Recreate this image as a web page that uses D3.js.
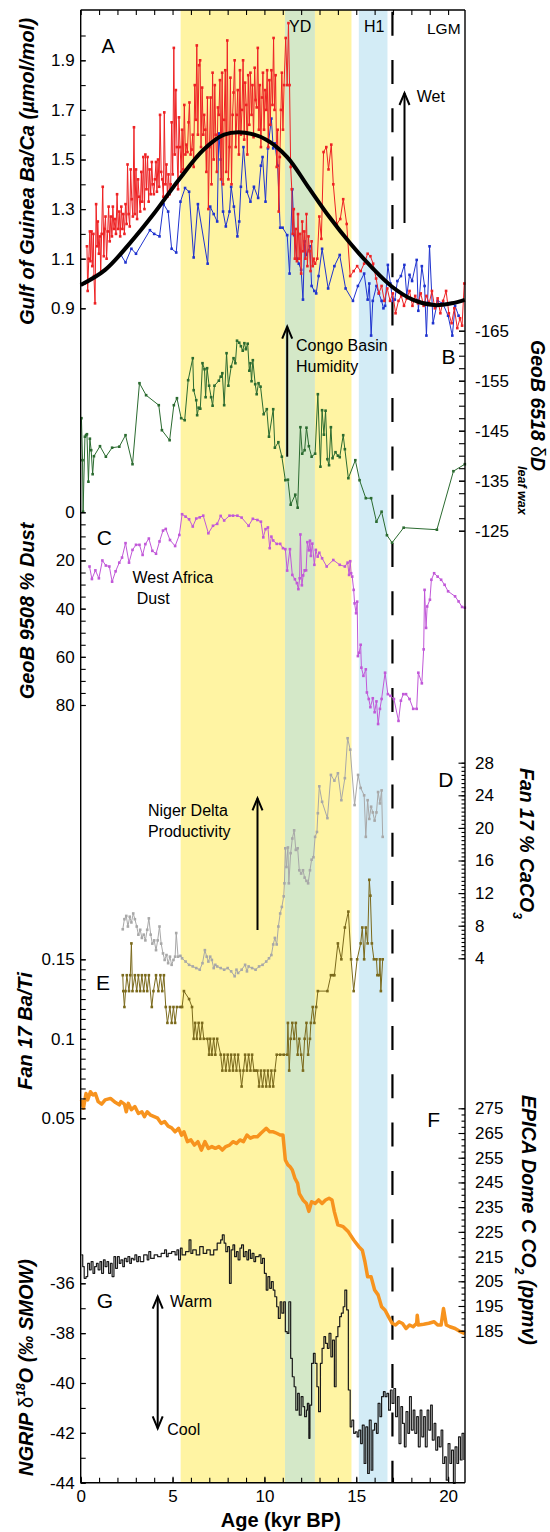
<!DOCTYPE html>
<html>
<head>
<meta charset="utf-8">
<script src="https://cdn.jsdelivr.net/npm/d3@7"></script>
<style>
  body { margin: 0; background: #fff; }
  svg { display: block; font-family: Arial, "Liberation Sans", sans-serif; }
</style>
</head>
<body>
<div id="root"></div>
<script>
// ---------- data (age kyr BP, value) ----------
const redBaCa = [[0.34,1.15],[0.38,0.97],[0.44,1.10],[0.50,1.21],[0.53,1.09],[0.59,1.21],[0.63,1.07],[0.69,1.20],[0.72,1.03],[0.78,0.92],[0.84,1.32],[0.90,1.15],[0.93,1.25],[0.99,1.12],[1.05,1.19],[1.09,1.04],[1.14,1.20],[1.20,1.39],[1.26,1.11],[1.30,1.22],
  [1.35,1.27],[1.41,1.10],[1.47,1.21],[1.52,1.31],[1.58,1.17],[1.64,1.27],[1.70,1.19],[1.75,1.31],[1.81,1.22],[1.87,1.26],[1.92,1.20],[1.98,1.36],[2.04,1.22],[2.10,1.29],[2.15,1.19],[2.21,1.31],[2.27,1.22],[2.32,1.28],[2.38,1.20],[2.44,1.32],[2.50,1.24],[2.55,1.48],[2.61,1.28],[2.67,1.23],[2.72,1.46],[2.78,1.34],[2.84,1.27],[2.90,1.63],[2.95,1.28],[3.01,1.46],[3.07,1.26],[3.12,1.42],[3.18,1.35],[3.24,1.29],
  [3.30,1.45],[3.35,1.33],[3.41,1.51],[3.47,1.30],[3.52,1.52],[3.58,1.38],[3.64,1.51],[3.70,1.33],[3.75,1.46],[3.81,1.36],[3.87,1.49],[3.92,1.40],[3.98,1.36],[4.04,1.42],[4.10,1.49],[4.15,1.37],[4.21,1.50],[4.27,1.39],[4.32,1.68],[4.38,1.45],[4.44,1.42],[4.50,1.35],[4.55,1.69],[4.61,1.40],[4.67,1.48],[4.72,1.35],[4.78,1.44],[4.84,1.36],[4.90,1.40],[4.95,1.65],[5.01,1.44],[5.07,1.95],[5.12,1.52],[5.18,1.78],[5.24,1.55],[5.30,1.38],[5.35,1.67],[5.41,1.55],
  [5.47,1.45],[5.52,1.62],[5.58,1.46],[5.64,1.72],[5.70,1.52],[5.75,1.56],[5.81,1.53],[5.87,1.65],[5.92,1.73],[5.98,1.52],[6.04,1.54],[6.10,1.60],[6.15,1.47],[6.21,1.80],[6.27,1.66],[6.32,1.96],[6.38,1.60],[6.44,1.88],[6.50,1.90],[6.55,1.55],[6.61,1.79],[6.67,1.60],[6.72,1.68],[6.78,1.62],[6.84,1.45],[6.90,1.75],[6.95,1.30],[7.01,1.55],[7.07,1.75],[7.12,1.40],[7.18,1.85],[7.24,1.50],[7.30,1.80],[7.35,1.60],[7.41,1.45],
  [7.47,1.71],[7.52,1.68],[7.58,1.82],[7.64,1.42],[7.70,1.85],[7.75,1.40],[7.81,1.66],[7.87,1.86],[7.92,1.45],[7.98,1.98],[8.04,1.42],[8.10,1.55],[8.15,1.83],[8.21,1.40],[8.27,1.68],[8.32,1.77],[8.38,1.90],[8.44,1.55],[8.50,1.68],[8.55,1.78],[8.61,1.52],[8.67,1.86],[8.72,1.60],[8.78,1.70],[8.84,1.90],[8.90,1.58],[8.95,1.81],
  [9.01,1.72],[9.07,1.52],[9.12,1.84],[9.18,1.64],[9.24,1.85],[9.30,1.68],[9.35,1.80],[9.41,1.59],[9.47,1.87],[9.52,1.74],[9.58,1.71],[9.64,1.95],[9.70,1.62],[9.75,1.80],[9.81,1.55],[9.87,1.75],[9.92,1.85],[9.98,1.62],[10.04,1.78],[10.10,1.70],[10.15,1.86],[10.21,1.55],[10.27,1.82],[10.32,1.64],[10.38,1.86],[10.44,1.72],[10.50,1.99],[10.55,1.70],[10.61,1.84],[10.67,1.47],[10.72,1.62],[10.78,1.29],[10.84,1.51],[10.90,1.70],[10.95,1.85],[11.01,1.62],[11.07,1.80],
  [11.16,1.99],[11.24,1.80],[11.31,2.05],[11.37,1.80],[11.43,1.47],[11.49,1.38],[11.54,1.20],[11.60,1.30],[11.66,1.10],[11.71,1.22],[11.77,1.09],[11.83,1.28],[11.89,1.10],[11.94,1.20],[12.00,1.04],[12.06,1.25],[12.11,1.13],[12.17,1.21],[12.23,1.10],[12.29,1.28],[12.34,1.07],[12.40,1.19],[12.46,1.13],[12.51,1.05],[12.57,1.17],[12.63,1.07],[12.69,1.10],[12.76,1.08],[12.88,1.10],[12.99,1.27],[13.10,1.18],[13.22,1.53],[13.37,1.55],[13.49,1.46],[13.64,1.56],[13.75,1.40],[13.94,1.24],[14.13,1.26],[14.29,1.34],[14.48,1.24],[14.67,1.03],[14.86,1.05],[15.05,1.07],[15.24,1.05],[15.43,1.08],[15.62,1.12],[15.77,1.11],[15.92,1.08],[16.08,1.02],[16.23,0.96],[16.38,0.99],[16.53,0.93],[16.69,0.98],[16.84,0.93],[16.99,0.96],[17.14,0.88],[17.30,0.93],[17.45,0.95],[17.60,0.91],[17.75,0.94],[17.90,0.97],[18.06,0.91],[18.21,0.95],[18.36,0.92],[18.51,0.96],[18.67,0.91],[18.82,0.95],[18.97,0.92],[19.12,0.97],[19.28,0.90],[19.43,0.94],[19.58,0.88],[19.73,0.93],[19.89,0.97],[20.04,0.88],[20.19,0.84],[20.34,0.90],[20.50,0.82],[20.65,0.86],[20.76,0.83],[20.88,1.00]];

const blueBaCa = [[2.19,1.115],[2.44,1.085],[2.76,1.14],[3.01,1.12],[3.77,1.215],[4.00,1.20],[4.29,1.19],[4.51,1.32],[4.76,1.29],[4.95,1.14],[5.20,1.125],[5.43,1.33],[5.68,1.385],[5.90,1.37],[6.15,1.105],[6.38,1.32],[6.91,1.08],[7.05,1.31],[7.24,1.28],[7.43,1.25],[7.52,1.605],[7.62,1.50],[7.75,1.29],[7.90,1.23],[8.10,1.29],[8.19,1.39],[8.34,1.31],[8.53,1.19],[8.63,1.25],[8.72,1.39],[8.86,1.55],[9.05,1.37],[9.24,1.33],[9.43,1.39],[9.66,1.345],[9.81,1.475],[9.90,1.51],[10.06,1.33],[10.19,1.545],[10.38,1.665],[10.48,1.545],[10.57,1.565],[10.72,1.475],[10.86,1.225],[10.99,1.225],[11.24,1.195],[11.37,1.04],[11.52,1.38],[11.62,1.195],[11.77,1.10],[11.87,1.08],[12.00,1.055],[12.10,0.935],[12.19,1.17],[12.29,1.115],[12.48,1.15],[12.57,0.99],[12.72,0.97],[12.82,0.96],[12.95,1.03],[13.14,1.14],[13.47,0.98],[13.81,1.07],[14.10,1.115],[14.42,0.98],[14.82,0.93],[15.09,0.99],[15.43,1.04],[15.62,0.935],[15.71,1.00],[15.81,0.79],[15.90,0.93],[16.10,0.99],[16.23,0.96],[16.38,0.93],[16.48,0.90],[16.57,0.91],[16.72,1.075],[16.86,1.00],[16.99,0.93],[17.10,0.935],[17.24,1.01],[17.43,1.03],[17.62,1.075],[17.75,0.95],[17.90,1.035],[18.04,1.01],[18.29,1.095],[18.38,0.89],[18.57,1.07],[18.72,0.99],[18.82,0.79],[18.99,1.15],[19.18,0.84],[19.43,0.93],[19.71,0.92],[20.00,0.87],[20.23,0.79],[20.38,0.91],[20.57,0.87]];

const fitBaCa = [[0,0.994],[1.33,1.055],[2.67,1.162],[4.0,1.283],[5.33,1.417],[6.67,1.538],[7.81,1.60],[8.95,1.608],[10.10,1.58],[11.24,1.51],[12.38,1.39],[13.52,1.27],[14.67,1.162],[15.81,1.068],[16.95,0.987],[18.1,0.934],[19.24,0.913],[20.19,0.92],[20.91,0.934]];

const dDwax = [[0.04,-147.5],[0.10,-139.1],[0.13,-128.8],[0.23,-143.8],[0.29,-144.1],[0.34,-144.3],[0.42,-134.8],[0.50,-143.4],[0.57,-141.1],[0.65,-136.3],[0.72,-139.9],[1.05,-141.9],[1.37,-139.8],[1.71,-141.6],[2.10,-141.8],[2.44,-144.1],[2.82,-138.3],[3.20,-154.5],[3.56,-152.1],[4.25,-150.1],[4.42,-145.1],[4.84,-143.1],[5.07,-150.1],[5.24,-151.5],[5.47,-147.5],[5.66,-147.1],[5.85,-155.1],[6.10,-159.5],[6.15,-153.1],[6.29,-151.1],[6.34,-148.1],[6.42,-149.6],[6.51,-149.4],[6.63,-158.5],[6.74,-157.3],[6.80,-151.7],[6.88,-157.5],[6.99,-154.0],[7.10,-151.7],[7.18,-150.0],[7.28,-154.0],[7.52,-155.0],[7.62,-155.8],[7.71,-156.5],[7.81,-150.1],[7.94,-160.5],[8.04,-154.0],[8.19,-157.8],[8.32,-159.5],[8.42,-158.5],[8.51,-163.0],[8.63,-162.6],[8.72,-161.9],[8.82,-161.0],[8.91,-162.5],[8.99,-161.3],[9.09,-162.4],[9.18,-157.0],[9.24,-158.5],[9.30,-154.9],[9.37,-159.1],[9.50,-154.3],[9.58,-152.3],[9.68,-154.5],[9.79,-153.8],[9.96,-148.3],[10.13,-149.3],[10.25,-143.8],[10.48,-149.3],[10.57,-141.6],[10.76,-142.7],[10.95,-139.8],[11.14,-135.1],[11.28,-135.2],[11.43,-130.2],[11.68,-132.2],[11.81,-129.6],[11.96,-145.7],[12.06,-140.4],[12.19,-141.1],[12.29,-145.6],[12.42,-141.9],[12.57,-139.8],[12.76,-140.4],[12.91,-152.3],[13.05,-137.8],[13.14,-149.1],[13.24,-144.2],[13.33,-149.0],[13.43,-139.3],[13.52,-138.1],[13.62,-145.7],[13.71,-139.5],[13.87,-140.7],[14.00,-140.0],[14.10,-139.7],[14.29,-144.1],[14.38,-141.3],[14.57,-135.5],[14.95,-139.1],[15.18,-135.1],[15.52,-131.5],[15.81,-131.5],[16.10,-126.8],[16.38,-128.8],[16.67,-124.1],[16.95,-122.6],[17.58,-125.6],[19.39,-125.2],[20.29,-136.9],[20.91,-138.3]];

const dust = [[0.48,22.5],[0.61,27.7],[0.80,24.1],[0.99,27.4],[1.18,20.0],[1.37,22.1],[1.56,22.5],[1.71,28.8],[1.90,24.5],[2.10,20.9],[2.25,18.8],[2.44,12.8],[2.63,20.9],[2.82,15.6],[3.01,13.5],[3.20,13.5],[3.37,17.7],[3.52,13.2],[3.71,10.9],[3.90,16.0],[4.10,17.2],[4.29,12.1],[4.48,7.6],[4.63,6.9],[4.86,11.5],[5.14,14.0],[5.37,9.4],[5.52,0.8],[5.71,1.8],[5.90,2.9],[6.10,5.9],[6.29,2.6],[6.48,2.1],[6.67,1.4],[6.95,8.7],[7.20,5.6],[7.43,4.8],[7.62,1.5],[7.81,3.4],[8.10,1.4],[8.29,1.4],[8.53,1.4],[8.76,2.2],[9.14,5.6],[9.37,2.7],[9.62,3.2],[9.81,3.9],[9.94,10.4],[10.06,7.0],[10.19,6.3],[10.29,14.9],[10.38,10.1],[10.48,11.7],[10.67,13.1],[10.86,13.1],[11.01,14.9],[11.14,15.3],[11.24,24.2],[11.39,15.3],[11.52,26.0],[11.66,27.8],[11.77,29.4],[11.85,31.9],[11.92,27.4],[11.96,9.2],[12.04,30.3],[12.11,26.2],[12.19,24.1],[12.27,24.1],[12.34,12.4],[12.42,15.8],[12.48,11.8],[12.53,18.1],[12.61,13.0],[12.72,21.8],[12.80,15.6],[12.90,18.4],[12.99,16.8],[13.14,19.1],[13.39,22.5],[13.75,19.8],[14.10,21.8],[14.38,22.5],[14.53,20.9],[14.61,26.0],[14.67,20.3],[14.72,25.3],[14.78,26.7],[14.86,32.2],[14.91,37.8],[14.99,41.9],[15.05,37.1],[15.09,59.7],[15.16,58.3],[15.24,55.0],[15.28,64.5],[15.39,67.9],[15.52,65.2],[15.58,74.8],[15.68,77.5],[15.77,80.9],[15.90,77.2],[16.00,83.0],[16.10,78.5],[16.19,87.9],[16.29,81.6],[16.38,77.5],[16.57,66.6],[16.72,75.5],[16.86,76.2],[17.05,77.5],[17.30,86.6],[17.43,78.2],[17.56,75.5],[17.71,75.5],[17.90,77.5],[18.10,81.6],[18.29,81.6],[18.38,66.6],[18.57,71.0],[18.67,56.9],[18.72,32.2],[18.80,48.0],[18.86,39.1],[19.01,36.3],[19.09,28.0],[19.24,25.3],[19.43,26.7],[19.62,28.0],[19.81,30.1],[20.00,32.8],[20.38,34.9],[20.57,37.0],[20.76,39.3],[20.91,39.6]];

const caco3 = [[2.29,7.56],[2.38,8.8],[2.48,9.2],[2.57,7.9],[2.67,9.1],[2.76,8.4],[2.86,9.5],[2.95,8.8],[3.05,7.9],[3.14,6.9],[3.24,7.5],[3.33,6.5],[3.43,6.9],[3.52,6.2],[3.62,7.5],[3.71,8.9],[3.81,6.9],[3.90,5.8],[4.00,6.2],[4.10,5.0],[4.19,6.2],[4.29,7.9],[4.38,5.8],[4.48,4.6],[4.57,3.8],[4.67,4.4],[4.76,3.4],[4.86,4.2],[4.95,3.2],[5.05,3.8],[5.14,4.2],[5.20,7.1],[5.30,4.2],[5.43,4.3],[5.52,4.0],[5.71,3.6],[5.90,3.2],[6.10,3.0],[6.29,2.8],[6.48,2.6],[6.63,3.4],[6.76,5.0],[6.86,4.2],[6.95,3.6],[7.05,4.2],[7.14,3.8],[7.24,2.8],[7.33,3.2],[7.43,3.0],[7.62,2.8],[7.81,2.6],[8.00,2.8],[8.19,2.4],[8.38,1.8],[8.48,2.6],[8.57,2.2],[8.76,2.6],[8.95,3.2],[9.05,2.4],[9.14,3.0],[9.33,2.8],[9.52,2.6],[9.71,3.0],[9.90,3.2],[10.10,3.6],[10.25,4.0],[10.38,4.4],[10.48,5.7],[10.57,6.5],[10.67,5.7],[10.76,7.9],[10.86,9.5],[10.95,10.3],[11.05,11.6],[11.09,13.2],[11.14,17.5],[11.20,15.2],[11.28,17.6],[11.33,13.2],[11.43,16.9],[11.52,18.7],[11.62,19.7],[11.71,17.3],[11.81,17.5],[11.90,14.8],[12.00,14.4],[12.10,14.8],[12.19,13.9],[12.29,13.5],[12.38,13.2],[12.48,14.8],[12.57,16.1],[12.67,16.4],[12.76,18.9],[12.86,19.5],[12.91,21.8],[12.99,25.1],[13.14,23.2],[13.43,21.2],[13.62,26.5],[13.81,25.8],[14.00,26.7],[14.19,23.4],[14.38,26.1],[14.53,31.0],[14.67,29.6],[14.91,22.8],[15.10,26.5],[15.24,24.9],[15.43,24.0],[15.52,18.9],[15.62,23.4],[15.71,21.1],[15.81,22.6],[15.90,21.9],[16.00,20.9],[16.10,21.9],[16.19,24.4],[16.29,23.0],[16.38,24.6],[16.44,18.9]];

const baTi = [[2.29,0.14],[2.32,0.13],[2.38,0.12],[2.44,0.13],[2.51,0.14],[2.63,0.13],[2.70,0.14],[2.76,0.16],[2.82,0.13],[2.95,0.14],[3.05,0.13],[3.14,0.14],[3.24,0.13],[3.33,0.14],[3.43,0.13],[3.52,0.14],[3.62,0.13],[3.71,0.14],[3.87,0.12],[3.96,0.13],[4.10,0.14],[4.23,0.13],[4.34,0.14],[4.44,0.13],[4.53,0.14],[4.63,0.12],[4.72,0.11],[4.86,0.12],[4.95,0.11],[5.05,0.12],[5.14,0.11],[5.24,0.12],[5.43,0.12],[5.52,0.12],[5.62,0.13],[5.90,0.125],[6.06,0.12],[6.15,0.10],[6.23,0.11],[6.32,0.10],[6.42,0.11],[6.51,0.10],[6.61,0.11],[6.70,0.10],[6.90,0.10],[6.99,0.09],[7.05,0.10],[7.14,0.09],[7.24,0.10],[7.33,0.09],[7.43,0.10],[7.62,0.09],[7.71,0.08],[7.81,0.09],[7.90,0.08],[8.00,0.09],[8.10,0.08],[8.19,0.09],[8.29,0.08],[8.38,0.09],[8.48,0.08],[8.57,0.09],[8.67,0.08],[8.76,0.07],[8.86,0.08],[8.95,0.09],[9.05,0.08],[9.14,0.09],[9.24,0.08],[9.33,0.09],[9.43,0.08],[9.52,0.08],[9.62,0.08],[9.71,0.07],[9.81,0.08],[9.90,0.07],[10.00,0.08],[10.10,0.07],[10.19,0.08],[10.29,0.07],[10.38,0.08],[10.48,0.07],[10.57,0.08],[10.67,0.09],[10.86,0.09],[11.05,0.09],[11.24,0.09],[11.28,0.11],[11.35,0.08],[11.43,0.10],[11.52,0.11],[11.62,0.10],[11.71,0.11],[11.81,0.09],[11.90,0.10],[12.00,0.09],[12.10,0.08],[12.19,0.10],[12.29,0.11],[12.38,0.09],[12.48,0.10],[12.53,0.11],[12.63,0.12],[12.72,0.11],[12.82,0.12],[12.91,0.13],[13.43,0.13],[13.62,0.14],[13.75,0.14],[13.81,0.14],[14.00,0.16],[14.19,0.15],[14.38,0.17],[14.57,0.18],[14.72,0.15],[14.86,0.13],[15.05,0.15],[15.24,0.16],[15.33,0.17],[15.43,0.15],[15.52,0.17],[15.62,0.16],[15.71,0.20],[15.77,0.19],[15.85,0.16],[15.96,0.15],[16.10,0.15],[16.15,0.14],[16.25,0.14],[16.29,0.15],[16.34,0.13],[16.44,0.15]];

const co2 = [[0.04,278.4],[0.15,275],[0.29,281],[0.38,278.4],[0.53,281.7],[0.67,280.4],[0.80,281],[0.95,277.7],[1.14,276.7],[1.33,278.4],[1.62,279.0],[1.90,277.3],[2.10,276.4],[2.19,277.7],[2.38,276.7],[2.48,273.6],[2.59,277.0],[2.76,274.4],[2.95,275.7],[3.14,272.9],[3.33,273.6],[3.47,271.6],[3.62,273.6],[3.81,272.2],[4.00,271.6],[4.19,271.0],[4.38,268.9],[4.57,269.6],[4.76,267.8],[4.95,267.1],[5.14,265.5],[5.33,266.9],[5.49,264.1],[5.62,265.5],[5.81,261.5],[6.00,262.2],[6.19,260.1],[6.38,261.5],[6.57,258.1],[6.76,261.5],[6.95,258.8],[7.14,259.5],[7.33,258.8],[7.52,259.5],[7.71,258.1],[7.90,259.5],[8.10,260.1],[8.29,261.5],[8.48,260.8],[8.67,262.2],[8.86,261.5],[9.05,264.2],[9.24,262.9],[9.43,263.5],[9.62,263.5],[9.81,264.9],[10.00,266.2],[10.10,266.9],[10.29,265.5],[10.48,265.5],[10.67,264.9],[10.86,264.2],[11.01,264.2],[11.14,254.1],[11.28,252.1],[11.39,251.4],[11.52,250.0],[11.66,246.7],[11.81,244.6],[11.90,240.5],[12.10,237.9],[12.29,236.5],[12.42,233.3],[12.57,237.2],[12.76,236.5],[12.95,237.9],[13.14,236.5],[13.33,237.9],[13.52,238.6],[13.68,237.9],[13.81,233.1],[14.00,227.8],[14.29,227.1],[14.57,225.0],[14.86,221.7],[15.14,219.0],[15.33,217.6],[15.47,213.0],[15.62,206.8],[15.81,206.8],[16.00,201.5],[16.19,199.5],[16.38,194.7],[16.57,193.3],[16.76,190.6],[16.95,188.0],[17.14,187.3],[17.33,188.6],[17.52,187.9],[17.71,185.9],[17.90,187.3],[18.10,186.6],[18.29,188.0],[18.32,191.3],[18.38,187.3],[18.67,187.6],[18.95,188.0],[19.24,188.6],[19.43,187.3],[19.62,187.3],[19.75,194.0],[19.90,187.3],[20.10,186.6],[20.38,185.9],[20.67,184.6],[20.91,183.8]];

const ngrip = [[0.04,-34.86],[0.11,-35.33],[0.19,-35.80],[0.29,-35.73],[0.38,-35.20],[0.48,-35.46],[0.57,-35.13],[0.67,-35.60],[0.76,-35.33],[0.86,-35.20],[0.95,-35.46],[1.05,-35.13],[1.14,-35.60],[1.24,-35.06],[1.33,-35.33],[1.43,-35.13],[1.52,-35.60],[1.62,-35.20],[1.71,-35.73],[1.81,-34.93],[1.90,-35.40],[2.00,-34.93],[2.10,-35.20],[2.19,-35.06],[2.29,-35.33],[2.38,-35.00],[2.48,-35.13],[2.57,-34.93],[2.67,-35.20],[2.76,-35.00],[2.86,-35.06],[2.95,-34.86],[3.05,-35.13],[3.14,-34.93],[3.24,-35.13],[3.43,-34.86],[3.62,-35.06],[3.71,-34.73],[3.81,-35.00],[4.00,-34.86],[4.19,-34.93],[4.38,-34.80],[4.57,-34.66],[4.67,-34.93],[4.76,-34.80],[4.95,-34.73],[5.14,-34.86],[5.24,-34.66],[5.33,-35.06],[5.43,-34.59],[5.52,-34.86],[5.71,-34.73],[5.90,-34.26],[6.00,-34.80],[6.10,-34.66],[6.29,-34.86],[6.48,-34.53],[6.67,-34.80],[6.86,-34.66],[7.05,-34.86],[7.24,-34.66],[7.43,-34.39],[7.62,-34.26],[7.71,-34.06],[7.81,-34.39],[7.90,-34.73],[8.00,-34.53],[8.10,-36.00],[8.19,-34.66],[8.29,-34.46],[8.38,-34.93],[8.48,-34.73],[8.57,-35.06],[8.67,-34.59],[8.76,-34.46],[8.86,-34.93],[8.95,-34.73],[9.05,-35.06],[9.14,-34.66],[9.24,-35.00],[9.33,-34.80],[9.43,-35.13],[9.52,-34.93],[9.71,-34.86],[9.81,-35.20],[9.90,-35.00],[10.00,-35.60],[10.10,-36.27],[10.19,-35.73],[10.29,-36.20],[10.38,-35.93],[10.48,-36.27],[10.57,-36.54],[10.67,-36.94],[10.76,-37.41],[10.86,-36.74],[10.95,-37.20],[11.05,-36.74],[11.14,-37.94],[11.24,-38.01],[11.33,-36.74],[11.43,-39.01],[11.52,-39.75],[11.62,-40.15],[11.71,-41.09],[11.81,-40.42],[11.90,-41.29],[12.00,-40.55],[12.10,-40.95],[12.19,-41.35],[12.29,-41.09],[12.34,-40.82],[12.42,-42.22],[12.48,-40.89],[12.57,-39.21],[12.67,-38.81],[12.76,-39.21],[12.86,-40.15],[12.95,-41.15],[13.05,-39.21],[13.14,-38.61],[13.24,-38.14],[13.33,-38.41],[13.43,-38.61],[13.52,-38.01],[13.62,-38.95],[13.71,-38.28],[13.81,-40.15],[13.90,-38.14],[14.00,-37.74],[14.10,-37.34],[14.19,-37.20],[14.29,-36.94],[14.38,-36.27],[14.48,-37.07],[14.57,-40.28],[14.67,-41.76],[14.76,-41.49],[14.86,-42.02],[14.95,-41.96],[15.05,-42.16],[15.14,-41.89],[15.24,-42.43],[15.33,-41.69],[15.43,-43.23],[15.52,-41.76],[15.62,-43.63],[15.71,-41.49],[15.81,-43.50],[15.90,-41.89],[16.00,-41.62],[16.10,-42.02],[16.19,-40.82],[16.29,-41.35],[16.38,-40.55],[16.48,-40.35],[16.57,-40.55],[16.67,-40.42],[16.76,-41.09],[16.86,-40.28],[16.95,-40.82],[17.05,-40.22],[17.14,-41.35],[17.24,-40.55],[17.33,-42.43],[17.43,-40.95],[17.52,-41.62],[17.62,-42.56],[17.71,-41.15],[17.81,-42.02],[17.90,-40.55],[18.00,-41.89],[18.10,-41.09],[18.19,-42.02],[18.29,-41.35],[18.38,-42.56],[18.48,-41.09],[18.57,-42.16],[18.67,-41.35],[18.76,-42.56],[18.86,-41.09],[18.95,-41.89],[19.05,-40.89],[19.14,-42.29],[19.24,-41.62],[19.33,-42.69],[19.43,-42.16],[19.52,-42.56],[19.62,-41.89],[19.71,-43.23],[19.81,-42.96],[19.90,-43.90],[20.00,-42.43],[20.10,-43.23],[20.19,-42.69],[20.29,-44.03],[20.38,-42.56],[20.48,-43.23],[20.57,-42.16],[20.67,-43.09],[20.76,-42.02],[20.86,-43.09]];

// climate intervals (kyr BP)
const intervals = [[5.44, 11.12], [11.12, 12.75], [12.75, 14.74], [15.14, 16.70]];
const lgmAge = 16.97;

// tick labels
const ageLabels = [0, 5, 10, 15, 20];
const baCaLabels = [0.9, 1.1, 1.3, 1.5, 1.7, 1.9];
const dDLabels = [-165, -155, -145, -135, -125];
const dustLabels = [0, 20, 40, 60, 80];
const caco3Labels = [4, 8, 12, 16, 20, 24, 28];
const baTiLabels = [0.05, 0.1, 0.15];
const co2Labels = [185, 195, 205, 215, 225, 235, 245, 255, 265, 275];
const ngripLabels = [-44, -42, -40, -38, -36];

// ---------- layout ----------
const width = 550;
const height = 1532;
const frameL = 80.7, frameR = 465, frameT = 10, frameB = 1482.7;
const font = "Arial, 'Liberation Sans', sans-serif";

const x = d3.scaleLinear([0, 20.92], [frameL, frameR]);
const yA = d3.scaleLinear([0.9, 1.9], [308.3, 60.3]);
const yB = d3.scaleLinear([-165, -125], [330.7, 530.7]);
const yC = d3.scaleLinear([0, 80], [512.3, 705]);
const yD = d3.scaleLinear([4, 28], [958.3, 762.7]);
const yE = d3.scaleLinear([0.05, 0.15], [1118.3, 959.3]);
const yF = d3.scaleLinear([185, 275], [1330.7, 1108.3]);
const yG = d3.scaleLinear([-44, -36], [1482.7, 1283.3]);

const svg = d3.select("#root")
  .append("svg")
  .attr("width", width)
  .attr("height", height);

// background intervals
const bandColors = ["#fff4a3", "#d4e8c8", "#fff4a3", "#d3ecf6"];
svg.append("g")
  .selectAll("rect")
  .data(intervals)
  .join("rect")
  .attr("x", (d) => x(d[0]))
  .attr("width", (d) => x(d[1]) - x(d[0]))
  .attr("y", frameT)
  .attr("height", frameB - frameT)
  .attr("fill", (d, i) => bandColors[i]);

// LGM dashed line
svg.append("line")
  .attr("x1", x(lgmAge)).attr("x2", x(lgmAge))
  .attr("y1", frameT + 1.7).attr("y2", frameB)
  .attr("stroke", "#000")
  .attr("stroke-width", 2.2)
  .attr("stroke-dasharray", "24 24.3");

// ---------- series ----------
function drawSeries(data, y, color, opts = {}) {
  const line = d3.line()
    .x((d) => x(d[0]))
    .y((d) => y(d[1]))
    .curve(opts.curve || d3.curveLinear);

  svg.append("path")
    .datum(data)
    .attr("d", line)
    .attr("fill", "none")
    .attr("stroke", color)
    .attr("stroke-width", opts.width || 1)
    .attr("stroke-linejoin", "round");

  if (opts.marker) {
    const s = opts.marker;
    svg.append("g")
      .selectAll("rect")
      .data(data)
      .join("rect")
      .attr("x", (d) => x(d[0]) - s / 2)
      .attr("y", (d) => y(d[1]) - s / 2)
      .attr("width", s)
      .attr("height", s)
      .attr("fill", color);
  }
}

drawSeries(co2, yF, "#f7931e", { width: 3.5 });
drawSeries(ngrip, yG, "#1a1a1a", { width: 1.2, curve: d3.curveStepAfter });
drawSeries(caco3, yD, "#a8a8a8", { marker: 2.6 });
drawSeries(baTi, yE, "#7b6a1c", { marker: 2.6 });
drawSeries(dust, yC, "#c158d8", { marker: 2.6 });
drawSeries(dDwax, yB, "#2b6b30", { marker: 2.6 });
drawSeries(blueBaCa, yA, "#1f33cf", { marker: 2.6 });
drawSeries(redBaCa, yA, "#ee2224", { marker: 2.6 });
drawSeries(fitBaCa, yA, "#000", { width: 4, curve: d3.curveCatmullRom });

// ---------- frame and axes ----------
const frame = svg.append("g").attr("stroke", "#000").attr("stroke-width", 1.4);
frame.append("line").attr("x1", frameL).attr("x2", frameL).attr("y1", frameT).attr("y2", frameB);
frame.append("line").attr("x1", frameR).attr("x2", frameR).attr("y1", frameT).attr("y2", frameB);
frame.append("line").attr("x1", frameL).attr("x2", frameR).attr("y1", frameT).attr("y2", frameT);
frame.append("line").attr("x1", frameL).attr("x2", frameR).attr("y1", frameB).attr("y2", frameB);

function styleAxis(g) {
  g.select(".domain").remove();
  g.attr("font-size", 17).attr("font-family", font);
  g.selectAll("line").attr("stroke-width", 1.1);
}

function yAxis(side, scale, minor, major, fmt, minorLen = 5, majorLen = 5) {
  const pos = side === "left" ? frameL : frameR;
  const make = side === "left" ? d3.axisLeft : d3.axisRight;
  svg.append("g")
    .attr("transform", `translate(${pos},0)`)
    .call(make(scale).tickValues(minor).tickSize(-minorLen).tickFormat(""))
    .call(styleAxis);
  svg.append("g")
    .attr("transform", `translate(${pos},0)`)
    .call(make(scale).tickValues(major).tickSize(-majorLen)
      .tickPadding(side === "left" ? 6 : 10).tickFormat(fmt))
    .call(styleAxis);
}

const steps = (a, b, s) => d3.range(Math.round((b - a) / s) + 1).map((i) => a + i * s);

yAxis("left", yA, steps(0.9, 2.0, 0.1), baCaLabels, d3.format(".1f"));
yAxis("left", yC, steps(0, 80, 5), dustLabels, (d) => String(d));
yAxis("left", yE, steps(0.05, 0.15, 0.00625), baTiLabels, (d) => String(d));
yAxis("left", yG, steps(-44, -36, 1), ngripLabels, (d) => String(d));
yAxis("right", yB, steps(-165, -125, 2.5), dDLabels, (d) => String(d), 6, 6);
yAxis("right", yD, steps(4, 28, 0.5), caco3Labels, (d) => String(d), 3.5, 6.5);
yAxis("right", yF, steps(182.5, 275, 2.5), co2Labels, (d) => String(d), 3.5, 6.5);

svg.append("g")
  .attr("transform", `translate(0,${frameB})`)
  .call(d3.axisBottom(x).tickValues(steps(0, 20, 1)).tickSize(-5).tickFormat(""))
  .call(styleAxis);
svg.append("g")
  .attr("transform", `translate(0,${frameB})`)
  .call(d3.axisBottom(x).tickValues(ageLabels).tickSize(-6).tickPadding(7).tickFormat((d) => String(d)))
  .call(styleAxis);
svg.append("g")
  .attr("transform", `translate(0,${frameT})`)
  .call(d3.axisTop(x).tickValues(steps(0, 20, 1)).tickSize(-5).tickFormat(""))
  .call(styleAxis);

// ---------- axis titles ----------
const titleStyle = (t) => t
  .attr("font-family", font)
  .attr("font-size", 20)
  .attr("font-weight", "bold")
  .attr("font-style", "italic")
  .attr("fill", "#000");

// parts: {text, size, dy, plain}
function title(transform, anchor, parts, size = 20) {
  const t = svg.append("text")
    .attr("transform", transform)
    .attr("text-anchor", anchor)
    .call(titleStyle)
    .attr("font-size", size);
  parts.forEach((p) => {
    const s = t.append("tspan").text(p.text);
    if (p.size) s.attr("font-size", p.size);
    if (p.dy) s.attr("dy", p.dy);
    if (p.plain) s.attr("font-weight", "normal").attr("font-style", "normal");
  });
}

const leftAt = (cx, cy) => `translate(${cx},${cy}) rotate(-90)`;
const rightAt = (bx, y0) => `translate(${bx},${y0}) rotate(90)`;

title(leftAt(33.5, 171.5), "middle", [{ text: "Gulf of Guinea Ba/Ca (µmol/mol)" }]);
title(leftAt(33.5, 611), "middle", [{ text: "GeoB 9508 % Dust" }]);
title(leftAt(32, 1031), "middle", [{ text: "Fan 17 Ba/Ti" }]);
title(leftAt(33, 1367.5), "middle", [
  { text: "NGRIP " },
  { text: "δ", plain: true },
  { text: "18", size: 12, dy: -8 },
  { text: "O (‰ SMOW)", dy: 8 },
]);

title(rightAt(531, 340), "start", [{ text: "GeoB 6518 " }, { text: "δ", plain: true }, { text: "D" }], 19.5);
title(rightAt(517.5, 466), "start", [{ text: "leaf wax" }], 12.5);
title(rightAt(520, 768), "start", [
  { text: "Fan 17 % CaCO" },
  { text: "3", size: 12, dy: 7 },
], 19.5);
title(rightAt(522, 1095), "start", [
  { text: "EPICA Dome C CO" },
  { text: "2", size: 12, dy: 7 },
  { text: " (ppmv)", dy: -7 },
], 19.5);

svg.append("text")
  .attr("x", 280.8)
  .attr("y", 1527)
  .attr("text-anchor", "middle")
  .attr("font-family", font)
  .attr("font-size", 20)
  .attr("font-weight", "bold")
  .text("Age (kyr BP)");

// ---------- annotations ----------
const notes = [
  ["A", 101.5, 53.3, 20], ["B", 441.5, 364, 21], ["C", 96.7, 545, 21], ["D", 438.3, 786.7, 21],
  ["E", 96, 990, 21], ["F", 427.3, 1126.7, 21], ["G", 96.7, 1308.3, 21],
  ["YD", 289, 31.5, 16], ["H1", 364, 32, 16], ["LGM", 427, 34, 15.5], ["Wet", 416.7, 102.3, 16],
  ["Congo Basin", 296, 350.5, 16], ["Humidity", 296, 371.7, 16],
  ["West Africa", 132.5, 583.3, 16], ["Dust", 136.7, 604, 16],
  ["Niger Delta", 147.9, 815.7, 16], ["Productivity", 147.9, 837.3, 16],
  ["Warm", 170, 1307.3, 16], ["Cool", 167.3, 1435, 16],
];

svg.append("g")
  .selectAll("text")
  .data(notes)
  .join("text")
  .attr("x", (d) => d[1])
  .attr("y", (d) => d[2])
  .attr("font-size", (d) => d[3])
  .attr("font-family", font)
  .text((d) => d[0]);

const arrows = svg.append("g")
  .attr("stroke", "#000")
  .attr("stroke-width", 2)
  .attr("fill", "none");

function arrow(ax, y1, y2, both) {
  arrows.append("line").attr("x1", ax).attr("x2", ax).attr("y1", y1).attr("y2", y2);
  arrows.append("path").attr("d", `M${ax - 5},${y2 + 12} L${ax},${y2} L${ax + 5},${y2 + 12}`);
  if (both) arrows.append("path").attr("d", `M${ax - 5},${y1 - 12} L${ax},${y1} L${ax + 5},${y1 - 12}`);
}

arrow(404.5, 223, 93);
arrow(287.2, 456.7, 326.7);
arrow(257.5, 930, 798.3);
arrow(157.7, 1428.3, 1296.7, true);
</script>
</body>
</html>
